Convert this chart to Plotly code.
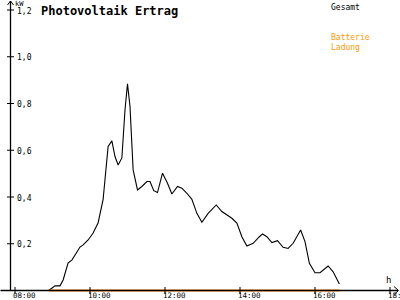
import plotly.graph_objects as go

# ---- data ----
times = ["08:54", "09:04", "09:12", "09:17", "09:25", "09:31", "09:44", "09:49", "09:57",
         "10:05", "10:13", "10:21", "10:29", "10:35", "10:40", "10:45", "10:51", "10:56",
         "11:00", "11:04", "11:09", "11:16", "11:23", "11:31", "11:36", "11:42", "11:48",
         "11:56", "12:04", "12:11", "12:20", "12:27", "12:35", "12:43", "12:51", "12:59",
         "13:09", "13:22", "13:31", "13:47", "13:55", "14:03", "14:11", "14:21", "14:31",
         "14:36", "14:43", "14:51", "15:00", "15:09", "15:17", "15:25", "15:37", "15:44",
         "15:51", "16:00", "16:08", "16:21", "16:29", "16:39"]
gesamt = [0.0, 0.02, 0.02, 0.045, 0.118, 0.13, 0.186, 0.195, 0.216,
          0.246, 0.29, 0.39, 0.616, 0.64, 0.573, 0.537, 0.567, 0.773,
          0.884, 0.787, 0.516, 0.43, 0.445, 0.466, 0.466, 0.427, 0.419,
          0.502, 0.459, 0.413, 0.445, 0.438, 0.416, 0.39, 0.33, 0.292,
          0.33, 0.366, 0.338, 0.309, 0.288, 0.23, 0.19, 0.202, 0.23,
          0.242, 0.23, 0.205, 0.213, 0.185, 0.18, 0.202, 0.259, 0.209,
          0.116, 0.076, 0.076, 0.105, 0.08, 0.028]
batt_times = ["08:54", "16:39"]
batt_ladung = [0.0, 0.0]

x_ticks = [8, 10, 12, 14, 16, 18]
x_ticklabels = ["08:00", "10:00", "12:00", "14:00", "16:00", "18:00"]
y_ticks = [0.2, 0.4, 0.6, 0.8, 1.0, 1.2]
y_ticklabels = ["0,2", "0,4", "0,6", "0,8", "1,0", "1,2"]


def to_h(s):
    h, m = s.split(":")
    return int(h) + int(m) / 60.0


tx = [to_h(s) for s in times]
bx = [to_h(s) for s in batt_times]

# geometry helpers (pixels -> data)
PX_H = 37.5          # pixels per hour
PX_V = 233.75        # pixels per kW
X0 = 7.6
XR = [X0, X0 + 400 / PX_H]
YR = [-(300 - 290.5) / PX_V, 290.5 / PX_V]


def px(x):
    return X0 + x / PX_H


def dv(p):
    return p / PX_V


AX_X = px(10.5)
font_mono = "DejaVu Sans Mono"

fig = go.Figure()

shapes = []
# y axis line and arrow
shapes.append(dict(type="line", x0=AX_X, x1=AX_X, y0=0, y1=YR[1] - dv(1), line=dict(color="black", width=1.3)))
shapes.append(dict(type="path", path=f"M {px(7.5)} {YR[1]-dv(5)} L {AX_X} {YR[1]-dv(1)} L {px(13.5)} {YR[1]-dv(5)}",
                   line=dict(color="black", width=1)))
# x axis line and arrow
shapes.append(dict(type="line", x0=AX_X - 10 / PX_H, x1=px(398), y0=0, y1=0, line=dict(color="black", width=1.3)))
shapes.append(dict(type="path", path=f"M {px(394)} {dv(4)} L {px(398.5)} 0 L {px(394)} {-dv(4)}",
                   line=dict(color="black", width=1)))
# y tick crosses
for v in y_ticks:
    shapes.append(dict(type="line", x0=px(7), x1=px(14), y0=v, y1=v, line=dict(color="black", width=1)))
# x ticks
for t in x_ticks:
    shapes.append(dict(type="line", x0=t, x1=t, y0=dv(3.5), y1=-dv(3.5), line=dict(color="black", width=1)))

fig.add_trace(go.Scatter(x=tx, y=gesamt, mode="lines", line=dict(color="black", width=1.1),
                         name="Gesamt", showlegend=False, hoverinfo="skip"))
fig.add_trace(go.Scatter(x=bx, y=batt_ladung, mode="lines", line=dict(color="#FF8000", width=2),
                         name="Batterie Ladung", showlegend=False, hoverinfo="skip"))

ann = []
for t, lab in zip(x_ticks, x_ticklabels):
    ann.append(dict(x=t, y=YR[0], xref="x", yref="y", text=lab, showarrow=False, xanchor="left", yanchor="bottom",
                    xshift=-3, yshift=-1, borderpad=0,
                    font=dict(family=font_mono, size=7.5, color="black")))
for v, lab in zip(y_ticks, y_ticklabels):
    ann.append(dict(x=px(15), y=v, xref="x", yref="y", text=lab, showarrow=False, xanchor="left", yanchor="middle",
                    yshift=-1, font=dict(family=font_mono, size=8, color="black")))
ann.append(dict(x=px(13), y=YR[1], xref="x", yref="y", text="kW", showarrow=False, xanchor="left", yanchor="top",
                yshift=2, font=dict(family=font_mono, size=7, color="black")))
ann.append(dict(x=px(384), y=dv(4), xref="x", yref="y", text="h", showarrow=False, xanchor="left", yanchor="bottom",
                font=dict(family=font_mono, size=9, color="black")))
ann.append(dict(x=px(39), y=YR[1] - dv(2), xref="x", yref="y", text="<b>Photovoltaik Ertrag</b>", showarrow=False,
                xanchor="left", yanchor="top", font=dict(family=font_mono, size=12, color="black")))
ann.append(dict(x=px(329), y=YR[1] - dv(1), xref="x", yref="y", text="Gesamt", showarrow=False,
                xanchor="left", yanchor="top", font=dict(family=font_mono, size=8, color="black")))
ann.append(dict(x=px(329), y=YR[1] - dv(31), xref="x", yref="y", text="Batterie<br>Ladung", showarrow=False,
                xanchor="left", yanchor="top", align="left", font=dict(family=font_mono, size=8, color="#FF9900")))

fig.update_layout(
    width=400, height=300, margin=dict(l=0, r=0, t=0, b=0),
    paper_bgcolor="white", plot_bgcolor="white",
    xaxis=dict(range=XR, visible=False, fixedrange=True),
    yaxis=dict(range=YR, visible=False, fixedrange=True),
    shapes=shapes, annotations=ann, showlegend=False,
)

fig.write_html("out.html")
